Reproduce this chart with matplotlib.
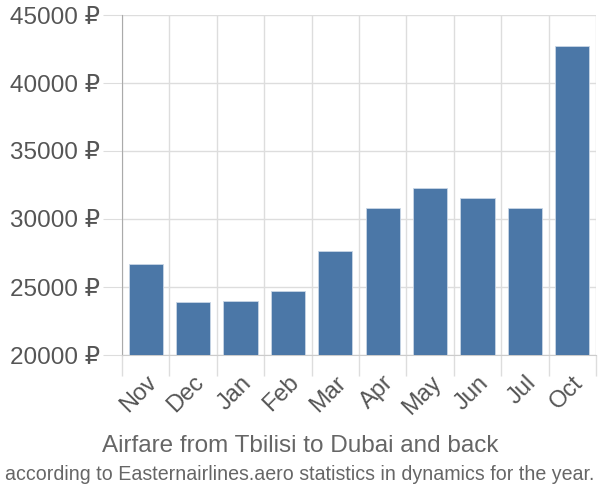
import numpy as np
import matplotlib.pyplot as plt
from matplotlib.ticker import FixedLocator

months = ['Nov', 'Dec', 'Jan', 'Feb', 'Mar', 'Apr', 'May', 'Jun', 'Jul', 'Oct']
prices = [26700, 23900, 24000, 24700, 27650, 30800, 32300, 31550, 30800, 42700]
yticks = [20000, 25000, 30000, 35000, 40000, 45000]

plt.rcParams['font.family'] = ['Liberation Sans', 'DejaVu Sans']

fig = plt.figure(figsize=(6, 5), dpi=100)
ax = fig.add_axes([122 / 600, 145 / 500, 474 / 600, 340 / 500])

x = np.arange(len(months))
ax.bar(x, prices, width=0.72, color='#4b77a7', edgecolor='#c9d6e6', linewidth=0.6, zorder=3)

ax.set_xlim(-0.5, len(months) - 0.5)
ax.set_ylim(20000, 45000)

ax.set_yticks(yticks)
ax.set_yticklabels([f'{v} ₽' for v in yticks])
ax.set_xticks(x)
ax.set_xticklabels(months, rotation=45, ha='right', va='top', rotation_mode='anchor')
ax.xaxis.set_minor_locator(FixedLocator(np.arange(-0.5, len(months), 1.0)))

ax.tick_params(axis='y', which='major', length=14, color='#dddddd', labelsize=17.5,
               labelcolor='#555555', pad=2)
ax.tick_params(axis='x', which='major', length=0, labelsize=17, labelcolor='#555555', pad=12)
ax.tick_params(axis='x', which='minor', length=15, color='#dddddd', width=1)

ax.grid(axis='y', which='major', color='#dddddd', linewidth=1, zorder=0)
ax.grid(axis='x', which='minor', color='#dddddd', linewidth=1, zorder=0)

for s in ['top', 'right']:
    ax.spines[s].set_visible(False)
ax.spines['left'].set_color('#aaaaaa')
ax.spines['bottom'].set_color('#cccccc')

fig.text(0.5, 1 - 446 / 500, 'Airfare from Tbilisi to Dubai and back', ha='center', va='center',
         fontsize=17.5, color='#666666')
fig.text(0.5, 1 - 475 / 500, 'according to Easternairlines.aero statistics in dynamics for the year.',
         ha='center', va='center', fontsize=14.1, color='#666666')

fig.savefig('out.png', dpi=100)
